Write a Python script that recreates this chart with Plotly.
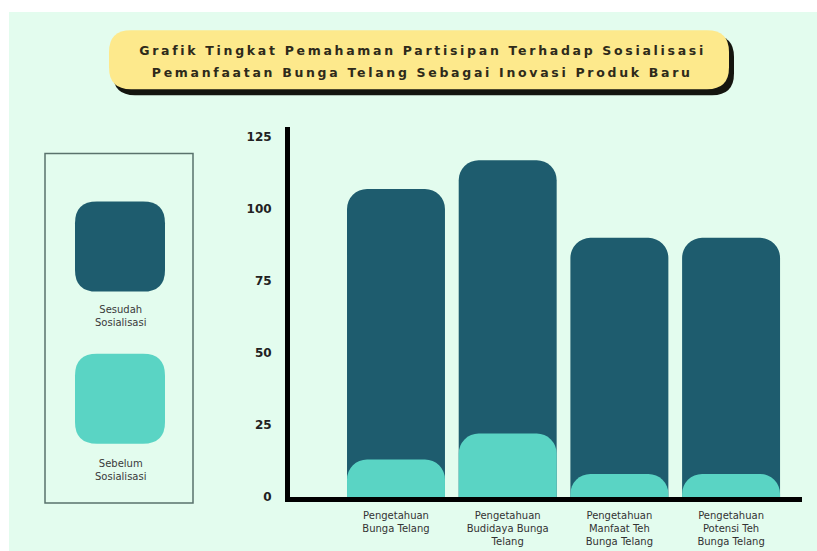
import plotly.graph_objects as go

# The photographed page is squeezed vertically (559 -> 551), so layout is
# done in page pixels: page_y = ref_y * K.
K = 559 / 551
OX, OY = 9, 12
W, H = 817 - OX, 559 - OY

categories = [
    "Pengetahuan<br>Bunga Telang",
    "Pengetahuan<br>Budidaya Bunga<br>Telang",
    "Pengetahuan<br>Manfaat Teh<br>Bunga Telang",
    "Pengetahuan<br>Potensi Teh<br>Bunga Telang",
]
sesudah = [107, 117, 90, 90]
sebelum = [13, 22, 8, 8]
y_ticks = [0, 25, 50, 75, 100, 125]

BG = "#e3fcee"
DARK = "#1e5c6e"
LIGHT = "#5ad4c4"
YELLOW = "#fde98c"


def px(x):
    return (x - OX) / W


def py(y):
    return 1 - (y * K - OY) / H


def rrect(x0, y0, x1, y1, r):
    ry = r / K
    pts = [
        f"M {px(x0 + r)},{py(y0)}",
        f"L {px(x1 - r)},{py(y0)}",
        f"Q {px(x1)},{py(y0)} {px(x1)},{py(y0 + ry)}",
        f"L {px(x1)},{py(y1 - ry)}",
        f"Q {px(x1)},{py(y1)} {px(x1 - r)},{py(y1)}",
        f"L {px(x0 + r)},{py(y1)}",
        f"Q {px(x0)},{py(y1)} {px(x0)},{py(y1 - ry)}",
        f"L {px(x0)},{py(y0 + ry)}",
        f"Q {px(x0)},{py(y0)} {px(x0 + r)},{py(y0)}",
        "Z",
    ]
    return " ".join(pts)


fig = go.Figure()
fig.add_trace(go.Bar(x=categories, y=sesudah, name="Sesudah Sosialisasi",
                     marker=dict(color=DARK, cornerradius=20, line=dict(width=0))))
fig.add_trace(go.Bar(x=categories, y=sebelum, name="Sebelum Sosialisasi",
                     xaxis="x2",
                     marker=dict(color=LIGHT, cornerradius=20, line=dict(width=0))))

shapes = [
    dict(type="path", xref="paper", yref="paper", layer="below",
         path=rrect(113, 35, 734, 95, 22), fillcolor="#15150f", line=dict(width=0)),
    dict(type="path", xref="paper", yref="paper", layer="below",
         path=rrect(109, 30, 729, 89, 22), fillcolor=YELLOW, line=dict(width=0)),
    dict(type="rect", xref="paper", yref="paper", layer="below",
         x0=px(45), x1=px(193), y0=py(153), y1=py(502),
         line=dict(color="#5a726c", width=1.5), fillcolor="rgba(0,0,0,0)"),
    dict(type="path", xref="paper", yref="paper",
         path=rrect(75, 201, 165, 291, 22), fillcolor=DARK, line=dict(width=0)),
    dict(type="path", xref="paper", yref="paper",
         path=rrect(75, 353, 165, 443, 22), fillcolor=LIGHT, line=dict(width=0)),
]

title_font = dict(family="DejaVu Sans", size=12.5, color="#2e2a1a", weight="bold")
leg_font = dict(family="DejaVu Sans", size=10, color="#3a3a3a")
annotations = [
    dict(text="Grafik Tingkat Pemahaman Partisipan Terhadap Sosialisasi",
         x=px(422), y=py(50), xref="paper", yref="paper", showarrow=False,
         font=title_font, xanchor="center", yanchor="middle"),
    dict(text="Pemanfaatan Bunga Telang Sebagai Inovasi Produk Baru",
         x=px(422), y=py(72), xref="paper", yref="paper", showarrow=False,
         font=title_font, xanchor="center", yanchor="middle"),
    dict(text="Sesudah<br>Sosialisasi", x=px(120), y=py(315), xref="paper", yref="paper",
         showarrow=False, font=leg_font, xanchor="center", yanchor="middle"),
    dict(text="Sebelum<br>Sosialisasi", x=px(120), y=py(469), xref="paper", yref="paper",
         showarrow=False, font=leg_font, xanchor="center", yanchor="middle"),
]

x_dom = [px(290), px(802)]
x_rng = [-0.949, 3.635]

fig.update_layout(
    width=W, height=H,
    margin=dict(l=0, r=0, t=0, b=0),
    paper_bgcolor=BG, plot_bgcolor=BG,
    barmode="overlay", bargap=0.123,
    showlegend=False,
    shapes=shapes, annotations=annotations,
    xaxis=dict(domain=x_dom, range=x_rng,
               showline=True, linecolor="#000000", linewidth=5,
               showgrid=False, zeroline=False, ticks="",
               tickfont=dict(family="DejaVu Sans", size=10, color="#333333"),
               ticklabelstandoff=5, fixedrange=True),
    xaxis2=dict(domain=x_dom, range=x_rng, overlaying="x", anchor="y",
                showline=False, showgrid=False, zeroline=False, ticks="",
                showticklabels=False, fixedrange=True),
    yaxis=dict(domain=[py(496), py(127)], range=[0, 128.4],
               tickvals=y_ticks, ticktext=[str(v) for v in y_ticks],
               showline=True, linecolor="#000000", linewidth=5,
               showgrid=False, zeroline=False, ticks="",
               tickfont=dict(family="DejaVu Sans", size=12, color="#222222", weight="bold"),
               ticklabelstandoff=11, fixedrange=True),
)

post = (
    "var de=document.documentElement, b=document.body;"
    "de.style.background='#ffffff'; b.style.background='#ffffff';"
    "b.style.margin='0'; de.style.overflow='hidden'; b.style.overflow='hidden';"
    "var g=document.getElementById('{plot_id}');"
    "g.style.position='absolute'; g.style.left='9px'; g.style.top='12px';"
    "document.querySelectorAll('.annotation-text').forEach(function(t){"
    "var s=t.textContent;"
    "if(s.indexOf('Grafik')===0||s.indexOf('Pemanfaatan')===0){t.style.letterSpacing='2.7px';}"
    "});"
)

fig.write_html("out.html", post_script=post)
